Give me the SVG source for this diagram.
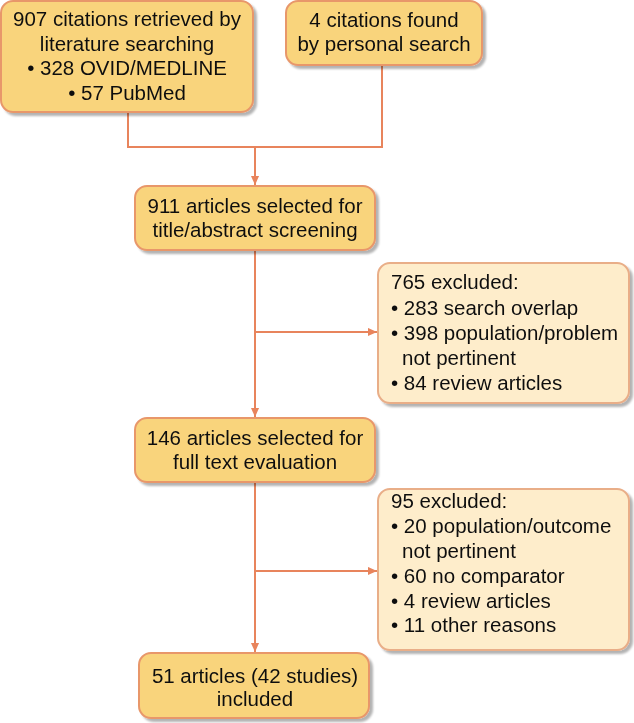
<svg xmlns="http://www.w3.org/2000/svg" width="634" height="723" viewBox="0 0 634 723">
<defs>
<marker id="arr" viewBox="0 0 10 10" refX="10" refY="5" markerWidth="9" markerHeight="9" orient="auto" markerUnits="userSpaceOnUse">
<path d="M0,0.5 L10,5 L0,9.5 z" fill="#E8845C"/>
</marker>
<filter id="sh" x="-10%" y="-10%" width="130%" height="130%">
<feGaussianBlur in="SourceAlpha" stdDeviation="1.2"/>
<feOffset dx="3" dy="3" result="b"/>
<feComponentTransfer><feFuncA type="linear" slope="0.3"/></feComponentTransfer>
<feMerge><feMergeNode/><feMergeNode in="SourceGraphic"/></feMerge>
</filter>
</defs>
<style>
.main{fill:#F9D47C;stroke:#E8976B;stroke-width:2}
.excl{fill:#FEEDCB;stroke:#E9AE88;stroke-width:2}
text{font-family:"Liberation Sans",Arial,sans-serif;font-size:20.5px;fill:#111}
.c{text-anchor:middle}
.conn{fill:none;stroke:#E8845C;stroke-width:2}
</style>
<g id="connectors">
<polyline class="conn" points="128,112 128,147 382,147 382,65"/>
<line class="conn" x1="255" y1="147" x2="255" y2="185" marker-end="url(#arr)"/>
<line class="conn" x1="255" y1="250" x2="255" y2="417" marker-end="url(#arr)"/>
<line class="conn" x1="255" y1="332" x2="377" y2="332" marker-end="url(#arr)"/>
<line class="conn" x1="255" y1="482" x2="255" y2="652" marker-end="url(#arr)"/>
<line class="conn" x1="255" y1="571" x2="377" y2="571" marker-end="url(#arr)"/>
</g>
<g id="n1" filter="url(#sh)">
<rect class="main" x="1" y="1" width="252" height="111" rx="12"/>
<text class="c" x="127" y="26">907 citations retrieved by</text>
<text class="c" x="127" y="51">literature searching</text>
<text class="c" x="127" y="75">• 328 OVID/MEDLINE</text>
<text class="c" x="127" y="100">• 57 PubMed</text>
</g>
<g id="n2" filter="url(#sh)">
<rect class="main" x="286" y="1" width="196" height="64" rx="12"/>
<text class="c" x="384" y="27">4 citations found</text>
<text class="c" x="384" y="51">by personal search</text>
</g>
<g id="n3" filter="url(#sh)">
<rect class="main" x="135" y="186" width="240" height="64" rx="12"/>
<text class="c" x="255" y="213">911 articles selected for</text>
<text class="c" x="255" y="237">title/abstract screening</text>
</g>
<g id="n4" filter="url(#sh)">
<rect class="excl" x="378" y="263" width="251" height="140" rx="12"/>
<text x="391" y="289">765 excluded:</text>
<text x="391" y="315">• 283 search overlap</text>
<text x="391" y="340">• 398 population/problem</text>
<text x="402" y="365">not pertinent</text>
<text x="391" y="390">• 84 review articles</text>
</g>
<g id="n5" filter="url(#sh)">
<rect class="main" x="135" y="418" width="240" height="64" rx="12"/>
<text class="c" x="255" y="445">146 articles selected for</text>
<text class="c" x="255" y="469">full text evaluation</text>
</g>
<g id="n6" filter="url(#sh)">
<rect class="excl" x="378" y="489" width="251" height="161" rx="12"/>
<text x="391" y="508">95 excluded:</text>
<text x="391" y="533">• 20 population/outcome</text>
<text x="402" y="558">not pertinent</text>
<text x="391" y="583">• 60 no comparator</text>
<text x="391" y="608">• 4 review articles</text>
<text x="391" y="632">• 11 other reasons</text>
</g>
<g id="n7" filter="url(#sh)">
<rect class="main" x="139" y="653" width="230" height="65" rx="12"/>
<text class="c" x="255" y="683">51 articles (42 studies)</text>
<text class="c" x="255" y="706">included</text>
</g>
</svg>
